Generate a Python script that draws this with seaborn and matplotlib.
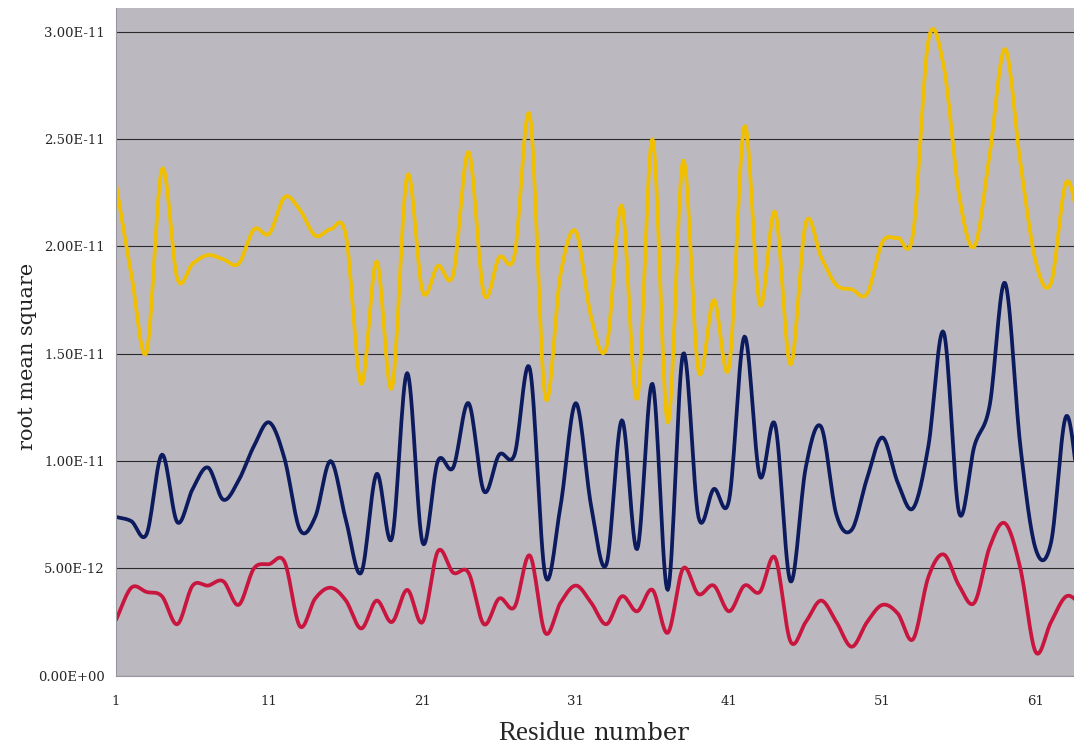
import numpy as np
import pandas as pd
import matplotlib
matplotlib.use("Agg")
import matplotlib.pyplot as plt
import matplotlib.ticker as mticker
import seaborn as sns

# Residue numbers and RMS values (units of 1e-12)
residues = list(range(1, 65))

rms_yellow = [22.9, 18.7, 15.1, 23.6, 18.5, 19.2, 19.6, 19.4, 19.2, 20.8,
              20.6, 22.3, 21.7, 20.5, 20.8, 20.5, 13.6, 19.3, 13.4, 23.3,
              17.9, 19.1, 18.7, 24.4, 17.8, 19.5, 19.6, 26.1, 13.0, 18.7,
              20.7, 16.7, 15.3, 21.9, 12.9, 25.0, 11.8, 24.0, 14.2, 17.5,
              14.4, 25.6, 17.3, 21.6, 14.5, 21.1, 19.5, 18.2, 18.0, 17.8,
              20.2, 20.4, 20.6, 29.6, 28.4, 22.4, 20.0, 24.3, 29.2, 23.9,
              19.3, 18.3, 23.0, 20.5]

rms_navy = [7.4, 7.2, 6.6, 10.3, 7.15, 8.7, 9.7, 8.2, 9.1, 10.7,
            11.8, 10.1, 6.8, 7.4, 10.0, 7.25, 4.8, 9.4, 6.4, 14.1,
            6.2, 10.0, 9.7, 12.7, 8.6, 10.3, 10.3, 14.3, 4.7, 7.9,
            12.7, 7.9, 5.2, 11.9, 5.9, 13.6, 4.0, 15.0, 7.4, 8.7,
            8.2, 15.8, 9.3, 11.7, 4.4, 9.7, 11.6, 7.5, 6.8, 9.2,
            11.1, 9.0, 7.8, 10.7, 16.0, 7.6, 10.7, 12.6, 18.3, 10.7,
            5.9, 6.2, 12.1, 7.5]

rms_red = [2.6, 4.1, 3.9, 3.7, 2.4, 4.2, 4.2, 4.4, 3.3, 5.0,
           5.2, 5.3, 2.3, 3.6, 4.1, 3.5, 2.2, 3.5, 2.5, 4.0,
           2.5, 5.8, 4.8, 4.8, 2.4, 3.6, 3.2, 5.6, 2.0, 3.4,
           4.2, 3.4, 2.4, 3.7, 3.0, 4.0, 2.0, 5.0, 3.8, 4.2,
           3.0, 4.2, 3.9, 5.5, 1.6, 2.5, 3.5, 2.5, 1.35, 2.5,
           3.3, 2.9, 1.7, 4.6, 5.65, 4.2, 3.4, 6.0, 7.1, 5.0,
           1.1, 2.5, 3.7, 3.3]

series_names = ["yellow", "navy", "red"]
series_colors = ["#f0c000", "#0c1a5e", "#c8163f"]
x_ticks = [1, 11, 21, 31, 41, 51, 61]


def smooth(x, y, n=16):
    # Catmull-Rom curve through the points, like a spreadsheet "smoothed line"
    x = np.asarray(x, float)
    y = np.asarray(y, float)
    out = []
    for p in (x, y):
        p = np.concatenate([[2 * p[0] - p[1]], p, [2 * p[-1] - p[-2]]])
        p0, p1, p2, p3 = p[:-3], p[1:-2], p[2:-1], p[3:]
        t = np.linspace(0, 1, n, endpoint=False)[:, None]
        c = 0.5 * (2 * p1 + (p2 - p0) * t
                   + (2 * p0 - 5 * p1 + 4 * p2 - p3) * t ** 2
                   + (3 * p1 - p0 - 3 * p2 + p3) * t ** 3)
        out.append(np.append(c.T.ravel(), p[-2]))
    return out


frames = []
for name, vals in zip(series_names, [rms_yellow, rms_navy, rms_red]):
    sx, sy = smooth(residues, vals)
    frames.append(pd.DataFrame({"residue": sx, "rms": sy * 1e-12, "series": name}))
df = pd.concat(frames, ignore_index=True)

sns.set_style("white", {"axes.facecolor": "#bcb8c0"})
plt.rcParams["font.family"] = ["DejaVu Serif"]

fig = plt.figure(figsize=(10.74, 7.45), dpi=100)
ax = fig.add_axes([0.108, 0.093, 0.892, 0.896])

sns.lineplot(data=df, x="residue", y="rms", hue="series", hue_order=series_names,
             palette=series_colors, estimator=None, sort=False, legend=False,
             linewidth=2.7, ax=ax)

ax.set_xlim(1, 63.5)
ax.set_ylim(0, 3.11e-11)
ax.set_yticks(np.arange(0, 3.01e-11, 0.5e-11))
ax.yaxis.set_major_formatter(mticker.FuncFormatter(lambda v, p: f"{v:.2E}"))
ax.set_xticks(x_ticks)
ax.grid(axis="y", color="#2a2a2a", linewidth=0.8)
ax.set_axisbelow(True)

ax.tick_params(axis="y", length=0, pad=8, labelsize=9.5)
ax.tick_params(axis="x", length=3, direction="in", pad=14, labelsize=9.5,
               color="#666666")
for s in ["top", "right"]:
    ax.spines[s].set_visible(False)
for s in ["left", "bottom"]:
    ax.spines[s].set_color("#9a96a0")
    ax.spines[s].set_linewidth(0.8)

ax.set_xlabel("")
ax.set_ylabel("root mean square", fontsize=15, color="#222222")
ax.yaxis.set_label_coords(-0.0825, 0.478)

# x title: "Residue" set in Times-like serif, "number" in a wider serif
fig.text(0.5456, 0.0067, "Residue", family="Liberation Serif", fontsize=19.5,
         ha="right", va="baseline")
fig.text(0.552, 0.0067, "number", family="DejaVu Serif", fontsize=17.5,
         ha="left", va="baseline", color="#222222")

fig.savefig("out.png", dpi=100)
